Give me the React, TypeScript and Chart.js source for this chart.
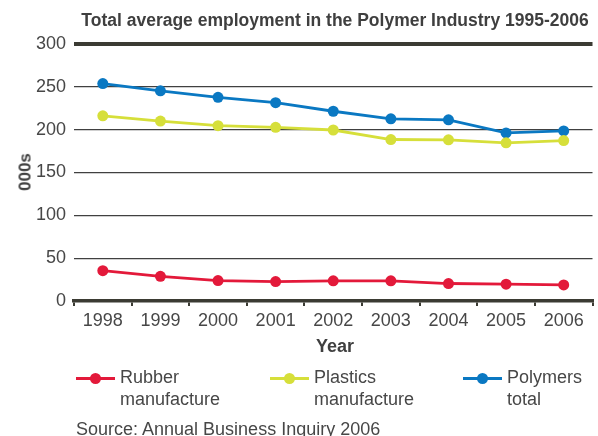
import React, { useEffect, useRef } from "react";
import { Chart, registerables } from "chart.js";

Chart.register(...registerables);

const years = ["1998", "1999", "2000", "2001", "2002", "2003", "2004", "2005", "2006"];
const rubber = [35.4, 28.8, 23.8, 22.7, 23.5, 23.5, 20.4, 19.6, 18.8];
const plastics = [216.2, 210, 204.6, 202.7, 199.6, 188.5, 188.1, 184.6, 187.3];
const polymers = [253.8, 245.4, 237.7, 231.5, 221.5, 212.7, 211.5, 196.2, 198.5];

const seriesNames = [["Rubber", "manufacture"], ["Plastics", "manufacture"], ["Polymers", "total"]];
const seriesColors = ["#e3193a", "#d6df3a", "#0a78c2"];

const FONT = '"Liberation Sans", Arial, Helvetica, sans-serif';
const TEXT = "#474747";
const AXIS = "#3b3b33";

export default function App() {
  const ref = useRef<HTMLCanvasElement | null>(null);

  useEffect(() => {
    if (!ref.current) return;
    const mk = (label: string, data: number[], color: string) => ({
      label,
      data,
      borderColor: color,
      backgroundColor: color,
      pointBackgroundColor: color,
      pointBorderColor: color,
      pointRadius: 5.5,
      pointBorderWidth: 0,
      borderWidth: 2.8,
      tension: 0,
      clip: false as any,
    });
    const chart = new Chart(ref.current, {
      type: "line",
      data: {
        labels: years,
        datasets: [
          mk(seriesNames[0].join(" "), rubber, seriesColors[0]),
          mk(seriesNames[1].join(" "), plastics, seriesColors[1]),
          mk(seriesNames[2].join(" "), polymers, seriesColors[2]),
        ],
      },
      options: {
        animation: false,
        responsive: false,
        maintainAspectRatio: false,
        devicePixelRatio: 1,
        layout: { padding: { left: 0, right: 1, top: 44, bottom: 0 } },
        plugins: { legend: { display: false }, title: { display: false }, tooltip: { enabled: false } },
        scales: {
          x: {
            type: "category",
            offset: true,
            grid: {
              offset: true,
              drawOnChartArea: false,
              drawTicks: true,
              tickLength: 5,
              color: AXIS,
              lineWidth: 2,
            },
            border: { display: true, color: AXIS, width: 3.5 },
            ticks: { color: TEXT, font: { family: FONT, size: 18 }, padding: 4, maxRotation: 0 },
            afterFit: (s: any) => {
              s.height = 135;
            },
          },
          y: {
            min: 0,
            max: 300,
            ticks: { stepSize: 50, color: TEXT, font: { family: FONT, size: 18 }, padding: 8 },
            grid: {
              drawTicks: false,
              color: (c: any) => (c.tick && c.tick.value === 300 ? AXIS : c.tick && c.tick.value === 0 ? "rgba(0,0,0,0)" : "#404040"),
              lineWidth: (c: any) => (c.tick && c.tick.value === 300 ? 4 : 1.3),
            },
            border: { display: false },
            afterFit: (s: any) => {
              s.width = 74;
            },
          },
        },
      },
    });
    return () => chart.destroy();
  }, []);

  const legendX = [76, 270, 463];

  return (
    <div style={{ position: "fixed", left: 0, top: 0, width: 598, height: 436, background: "#fff", fontFamily: FONT, color: TEXT, overflow: "hidden" }}>
      <canvas ref={ref} width={598} height={436} style={{ position: "absolute", left: 0, top: 0, width: 598, height: 436 }} />
      <div style={{ position: "absolute", left: 335, top: 21, transform: "translate(-50%,-50%)", whiteSpace: "nowrap", fontWeight: "bold", fontSize: 17.5, lineHeight: 1, color: "#3f3f3f" }}>
        Total average employment in the Polymer Industry 1995-2006
      </div>
      <div style={{ position: "absolute", left: 25, top: 172, transform: "translate(-50%,-50%) rotate(-90deg)", whiteSpace: "nowrap", fontWeight: "bold", fontSize: 17, lineHeight: 1, color: "#3f3f3f" }}>
        000s
      </div>
      <div style={{ position: "absolute", left: 335, top: 346, transform: "translate(-50%,-50%)", whiteSpace: "nowrap", fontWeight: "bold", fontSize: 18, lineHeight: 1, color: "#3f3f3f" }}>
        Year
      </div>
      {seriesNames.map((lines, i) => (
        <div key={i} style={{ position: "absolute", left: legendX[i], top: 366 }}>
          <div style={{ position: "absolute", left: 0, top: 11, width: 39, height: 3, background: seriesColors[i] }} />
          <div style={{ position: "absolute", left: 14, top: 7, width: 11, height: 11, borderRadius: "50%", background: seriesColors[i] }} />
          <div style={{ position: "absolute", left: 44, top: 0, fontSize: 18, lineHeight: "22px", whiteSpace: "nowrap" }}>
            {lines[0]}
            <br />
            {lines[1]}
          </div>
        </div>
      ))}
      <div style={{ position: "absolute", left: 76, top: 417.7, fontSize: 18, lineHeight: "22px", whiteSpace: "nowrap" }}>
        Source: Annual Business Inquiry 2006
      </div>
    </div>
  );
}
